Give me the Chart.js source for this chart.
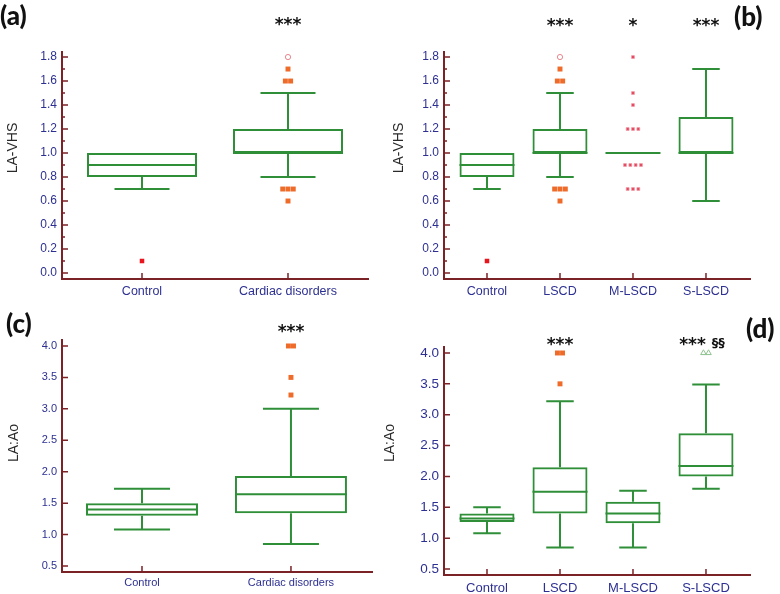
<!DOCTYPE html>
<html>
<head>
<meta charset="utf-8">
<script src="https://cdn.jsdelivr.net/npm/chart.js@4.4.1/dist/chart.umd.min.js"></script>
<style>
    body { margin: 0; background: #fff; width: 780px; height: 594px; position: relative; overflow: hidden; }
    .panel { position: absolute; }
    .tag { position: absolute; font: 900 26px Lato, "Open Sans", sans-serif; line-height: 26px; color: #111; }
</style>
</head>
<body>
<div class="panel" style="left:0;top:0;width:390px;height:300px"><canvas id="chartA"></canvas></div>
<div class="panel" style="left:380px;top:0;width:400px;height:300px"><canvas id="chartB"></canvas></div>
<div class="panel" style="left:0;top:300px;width:390px;height:294px"><canvas id="chartC"></canvas></div>
<div class="panel" style="left:380px;top:300px;width:400px;height:294px"><canvas id="chartD"></canvas></div>
<div class="tag" style="left:0;top:2px">(a)</div>
<div class="tag" style="left:734px;top:3px">(b)</div>
<div class="tag" style="left:6px;top:310px">(c)</div>
<div class="tag" style="left:746px;top:315px">(d)</div>
<script>
const AXIS = '#7B2226';
const INK = '#2D3092';
const GREEN = '#2F8F38';
const ORANGE = '#EE6B2A';
const FONT = '"Liberation Sans", Arial, sans-serif';

// (a) LA-VHS, control vs cardiac disorders
const catsA = ['Control', 'Cardiac disorders'];
const q1A = [0.8, 1.0];
const medA = [0.9, 1.0];
const q3A = [1.0, 1.2];
const loA = [0.7, 0.8];
const hiA = [1.0, 1.5];
const outA = [[2, 1.7, 1], [2, 1.6, 2], [2, 0.7, 3], [2, 0.6, 1]];   // [group, value, count]
const farA = [[2, 1.8, 1]];
const lowA = [[1, 0.1, 1]];
const sigA = ['', '***'];

// (b) LA-VHS by LSCD severity
const catsB = ['Control', 'LSCD', 'M-LSCD', 'S-LSCD'];
const q1B = [0.8, 1.0, 1.0, 1.0];
const medB = [0.9, 1.0, 1.0, 1.0];
const q3B = [1.0, 1.2, 1.0, 1.3];
const loB = [0.7, 0.8, 1.0, 0.6];
const hiB = [1.0, 1.5, 1.0, 1.7];
const outB = [[2, 1.7, 1], [2, 1.6, 2], [2, 0.7, 3], [2, 0.6, 1]];
const farB = [[2, 1.8, 1]];
const lowB = [[1, 0.1, 1]];
const obsB = [[3, 1.8, 1], [3, 1.5, 1], [3, 1.4, 1], [3, 1.2, 3], [3, 0.9, 4], [3, 0.7, 3]];
const sigB = ['', '***', '*', '***'];

// (c) LA:Ao, control vs cardiac disorders
const catsC = ['Control', 'Cardiac disorders'];
const q1C = [1.30, 1.34];
const medC = [1.40, 1.64];
const q3C = [1.50, 1.93];
const loC = [1.08, 0.85];
const hiC = [1.73, 3.00];
const outC = [[2, 4.0, 2], [2, 3.5, 1], [2, 3.22, 1]];
const sigC = ['', '***'];

// (d) LA:Ao by LSCD severity
const catsD = ['Control', 'LSCD', 'M-LSCD', 'S-LSCD'];
const q1D = [1.26, 1.40, 1.24, 2.00];
const medD = [1.32, 1.75, 1.40, 2.17];
const q3D = [1.40, 2.15, 1.59, 2.70];
const loD = [1.08, 0.85, 0.85, 1.80];
const hiD = [1.50, 3.22, 1.77, 3.49];
const outD = [[2, 4.0, 2], [2, 3.5, 1]];
const farD = [[4, 4.0, 2]];
const sigD = ['', '***', '', '***'];
const sig2D = ['', '', '', '§§'];

// marker looks
const SQ = { style: 'rect', r: 3.5, fill: ORANGE, line: ORANGE, w: 0 };
const RED = { style: 'rect', r: 3.2, fill: '#E8141E', line: '#E8141E', w: 0 };
const RING = { style: 'circle', r: 2.6, fill: 'rgba(0,0,0,0)', line: '#E8868C', w: 1 };
const DOT = { style: 'rect', r: 2, fill: '#E2455E', line: 'rgba(242,150,160,0.7)', w: 1 };
const TRI = { style: 'triangle', r: 3.2, fill: 'rgba(0,0,0,0)', line: '#8DC28D', w: 1 };

function spread(groups, dx) {
    const pts = [];
    groups.forEach(([cat, val, n]) => {
        for (let j = 0; j < n; j++) pts.push({ x: cat + (j - (n - 1) / 2) * dx, y: val });
    });
    return pts;
}

function buildPanel(id, p) {
    const idx = p.cats.map((c, i) => i + 1);

    const whiskers = {
        id: 'whiskers',
        beforeDatasetsDraw(chart) {
            const { ctx, scales: { x, y } } = chart;
            const half = p.boxPx / 2, cap = p.boxPx / 4;
            ctx.save();
            ctx.strokeStyle = GREEN;
            ctx.lineWidth = 2;
            ctx.beginPath();
            idx.forEach((v, i) => {
                const cx = x.getPixelForValue(v);
                const yq1 = y.getPixelForValue(p.q1[i]);
                const yq3 = y.getPixelForValue(p.q3[i]);
                const ylo = y.getPixelForValue(p.lo[i]);
                const yhi = y.getPixelForValue(p.hi[i]);
                const ym = y.getPixelForValue(p.med[i]);
                if (p.hi[i] > p.q3[i]) {
                    ctx.moveTo(cx, yq3); ctx.lineTo(cx, yhi);
                    ctx.moveTo(cx - cap, yhi); ctx.lineTo(cx + cap, yhi);
                }
                if (p.lo[i] < p.q1[i]) {
                    ctx.moveTo(cx, yq1); ctx.lineTo(cx, ylo);
                    ctx.moveTo(cx - cap, ylo); ctx.lineTo(cx + cap, ylo);
                }
                ctx.moveTo(cx - half, ym); ctx.lineTo(cx + half, ym);
            });
            ctx.stroke();
            ctx.restore();
        }
    };

    const decor = {
        id: 'decor',
        afterDraw(chart) {
            const { ctx, chartArea: a, scales: { x, y } } = chart;
            ctx.save();
            // inward tick marks
            ctx.strokeStyle = AXIS;
            ctx.lineWidth = 1.5;
            ctx.beginPath();
            y.ticks.forEach(t => {
                const py = y.getPixelForValue(t.value);
                ctx.moveTo(a.left, py); ctx.lineTo(a.left + 6, py);
                if (p.minor) {
                    const mv = t.value + p.yStep / 2;
                    if (mv < y.max) {
                        const my = y.getPixelForValue(mv);
                        ctx.moveTo(a.left, my); ctx.lineTo(a.left + 3, my);
                    }
                }
            });
            x.ticks.forEach(t => {
                const px = x.getPixelForValue(t.value);
                ctx.moveTo(px, a.bottom); ctx.lineTo(px, a.bottom - 6);
            });
            ctx.stroke();

            // significance marks
            ctx.fillStyle = '#111';
            ctx.textBaseline = 'alphabetic';
            const by = a.top - p.sigOff;
            p.sig.forEach((s, i) => {
                if (!s) return;
                const cx = x.getPixelForValue(i + 1);
                const extra = p.sig2 ? p.sig2[i] : '';
                ctx.font = 'bold 17px "DejaVu Sans"';
                if (!extra) {
                    ctx.textAlign = 'center';
                    ctx.fillText(s, cx, by);
                    return;
                }
                const w1 = ctx.measureText(s).width;
                ctx.font = 'bold 13px "DejaVu Sans"';
                const w2 = ctx.measureText(extra).width;
                const start = cx - (w1 + 6 + w2) / 2 - 4;
                ctx.textAlign = 'left';
                ctx.fillText(extra, start + w1 + 6, by - 3);
                ctx.font = 'bold 17px "DejaVu Sans"';
                ctx.fillText(s, start, by);
            });

            // axis title
            ctx.fillStyle = '#2a2a2a';
            ctx.font = '14px ' + FONT;
            ctx.textAlign = 'center';
            ctx.textBaseline = 'middle';
            ctx.translate(p.titleX, p.titleY);
            ctx.rotate(-Math.PI / 2);
            ctx.fillText(p.title, 0, 0);
            ctx.restore();
        }
    };

    const datasets = [{
        type: 'bar',
        data: idx.map((v, i) => ({ x: v, y: [p.q1[i], p.q3[i]] })),
        backgroundColor: 'rgba(0,0,0,0)',
        borderColor: GREEN,
        borderWidth: 2,
        borderSkipped: false,
        inflateAmount: 0,
        barThickness: p.boxPx,
        order: 3
    }];
    p.marks.forEach(([groups, m]) => datasets.push({
        type: 'scatter',
        data: spread(groups, p.dx),
        pointStyle: m.style,
        pointRadius: m.r,
        backgroundColor: m.fill,
        borderColor: m.line,
        borderWidth: m.w,
        order: 1
    }));

    new Chart(document.getElementById(id), {
        type: 'bar',
        data: { datasets },
        options: {
            responsive: true,
            maintainAspectRatio: false,
            animation: false,
            events: [],
            layout: { padding: { left: 0, right: p.padR, top: p.padT, bottom: 0 } },
            plugins: { legend: { display: false }, tooltip: { enabled: false } },
            scales: {
                x: {
                    type: 'linear',
                    min: p.xMin,
                    max: p.xMax,
                    offset: false,
                    grid: { display: false, drawTicks: false },
                    border: { display: true, color: AXIS, width: 2 },
                    afterBuildTicks: s => { s.ticks = idx.map(v => ({ value: v })); },
                    ticks: {
                        color: INK,
                        font: { family: FONT, size: p.xFont },
                        padding: p.xPad,
                        autoSkip: false,
                        maxRotation: 0,
                        callback: (v, i) => p.cats[i]
                    },
                    afterFit: s => { s.height = p.xHeight; }
                },
                y: {
                    type: 'linear',
                    min: p.yMin,
                    max: p.yMax,
                    grid: { display: false, drawTicks: false },
                    border: { display: true, color: AXIS, width: 2 },
                    ticks: {
                        stepSize: p.yStep,
                        includeBounds: false,
                        color: INK,
                        font: { family: FONT, size: p.yFont },
                        padding: 5,
                        callback: v => Number(v).toFixed(1)
                    },
                    afterFit: s => { s.width = p.yWidth; }
                }
            }
        },
        plugins: [whiskers, decor]
    });
}

buildPanel('chartA', {
    cats: catsA, q1: q1A, med: medA, q3: q3A, lo: loA, hi: hiA,
    marks: [[outA, SQ], [farA, RING], [lowA, RED]],
    sig: sigA, sigOff: 21.6, title: 'LA-VHS', titleX: 12.7, titleY: 148,
    xMin: 0.452, xMax: 2.548, yMin: -0.05, yMax: 1.842, yStep: 0.2, minor: true,
    boxPx: 110, dx: 0.036, padR: 22, padT: 52, yWidth: 62, xHeight: 21,
    xFont: 12.5, xPad: 5, yFont: 12
});

buildPanel('chartB', {
    cats: catsB, q1: q1B, med: medB, q3: q3B, lo: loB, hi: hiB,
    marks: [[outB, SQ], [farB, RING], [lowB, RED], [obsB, DOT]],
    sig: sigB, sigOff: 21.1, title: 'LA-VHS', titleX: 19, titleY: 148,
    xMin: 0.411, xMax: 4.603, yMin: -0.05, yMax: 1.842, yStep: 0.2, minor: true,
    boxPx: 55, dx: 0.073, padR: 30, padT: 52, yWidth: 64, xHeight: 21,
    xFont: 12.5, xPad: 5, yFont: 12
});

buildPanel('chartC', {
    cats: catsC, q1: q1C, med: medC, q3: q3C, lo: loC, hi: hiC,
    marks: [[outC, SQ]],
    sig: sigC, sigOff: 3, title: 'LA:Ao', titleX: 14, titleY: 143,
    xMin: 0.463, xMax: 2.544, yMin: 0.405, yMax: 4.095, yStep: 0.5, minor: false,
    boxPx: 112, dx: 0.034, padR: 18, padT: 40, yWidth: 62, xHeight: 22,
    xFont: 11, xPad: 4, yFont: 11
});

buildPanel('chartD', {
    cats: catsD, q1: q1D, med: medD, q3: q3D, lo: loD, hi: hiD,
    marks: [[outD, SQ], [farD, TRI]],
    sig: sigD, sig2: sig2D, sigOff: -3.4, title: 'LA:Ao', titleX: 10, titleY: 143,
    xMin: 0.411, xMax: 4.603, yMin: 0.403, yMax: 4.097, yStep: 0.5, minor: false,
    boxPx: 55, dx: 0.07, padR: 30, padT: 47, yWidth: 64, xHeight: 19,
    xFont: 13, xPad: 5.5, yFont: 13.5
});
</script>
</body>
</html>
